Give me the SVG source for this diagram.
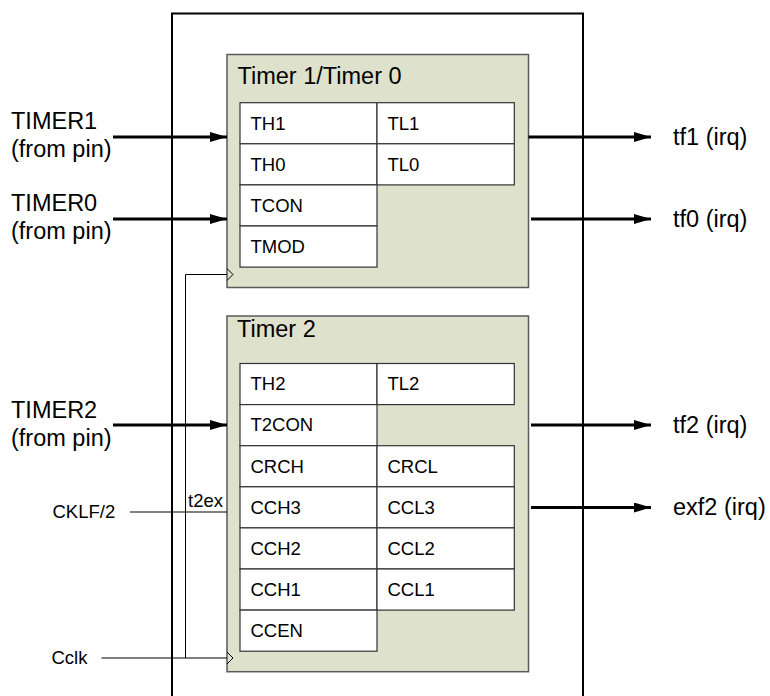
<svg xmlns="http://www.w3.org/2000/svg" width="770" height="696" viewBox="0 0 770 696">
<style>
text{font-family:"Liberation Sans",Arial,sans-serif;fill:#000}
.big{font-size:23.5px}
.sm{font-size:18.5px}
.blk{fill:#dee1cc;stroke:#5a5a5a;stroke-width:1.5}
.cell{fill:#fff;stroke:#333;stroke-width:1.2}
.thick{stroke:#000;stroke-width:3;fill:none}
.thin{stroke:#000;stroke-width:1;fill:none}
.chev{stroke:#000;stroke-width:1;fill:none}
</style>
<defs>
<marker id="ah" viewBox="0 0 17 10" refX="17" refY="5" markerWidth="17" markerHeight="10" markerUnits="userSpaceOnUse" orient="auto">
<path d="M0,0 L17,5 L0,10 Z" fill="#000"/>
</marker>
</defs>
<rect width="770" height="696" fill="#fff"/>
<g id="outer">
<rect x="172" y="13.5" width="411" height="700" fill="none" stroke="#000" stroke-width="2"/>
</g>
<g id="timer10">
<rect class="blk" x="227" y="54.5" width="301.5" height="233"/>
<text class="big" x="237.5" y="84">Timer 1/Timer 0</text>
<rect class="cell" x="240" y="102.7" width="137" height="41.1"/>
<rect class="cell" x="377" y="102.7" width="137.3" height="41.1"/>
<rect class="cell" x="240" y="143.8" width="137" height="41.1"/>
<rect class="cell" x="377" y="143.8" width="137.3" height="41.1"/>
<rect class="cell" x="240" y="184.9" width="137" height="41.1"/>
<rect class="cell" x="240" y="226" width="137" height="41.1"/>
<text class="sm" x="250.5" y="129.5">TH1</text>
<text class="sm" x="387.5" y="129.5">TL1</text>
<text class="sm" x="250.5" y="170.6">TH0</text>
<text class="sm" x="387.5" y="170.6">TL0</text>
<text class="sm" x="250.5" y="211.7">TCON</text>
<text class="sm" x="250.5" y="252.8">TMOD</text>
</g>
<g id="timer2">
<rect class="blk" x="227" y="316" width="301.5" height="355.7"/>
<text class="big" x="237" y="337">Timer 2</text>
<rect class="cell" x="240" y="363.5" width="137" height="41.1"/>
<rect class="cell" x="377" y="363.5" width="137.3" height="41.1"/>
<rect class="cell" x="240" y="404.6" width="137" height="41.1"/>
<rect class="cell" x="240" y="445.7" width="137" height="41.1"/>
<rect class="cell" x="377" y="445.7" width="137.3" height="41.1"/>
<rect class="cell" x="240" y="486.8" width="137" height="41.1"/>
<rect class="cell" x="377" y="486.8" width="137.3" height="41.1"/>
<rect class="cell" x="240" y="527.9" width="137" height="41.1"/>
<rect class="cell" x="377" y="527.9" width="137.3" height="41.1"/>
<rect class="cell" x="240" y="569" width="137" height="41.1"/>
<rect class="cell" x="377" y="569" width="137.3" height="41.1"/>
<rect class="cell" x="240" y="610.1" width="137" height="41.1"/>
<text class="sm" x="250.5" y="390.3">TH2</text>
<text class="sm" x="387.5" y="390.3">TL2</text>
<text class="sm" x="250.5" y="431.4">T2CON</text>
<text class="sm" x="250.5" y="472.5">CRCH</text>
<text class="sm" x="387.5" y="472.5">CRCL</text>
<text class="sm" x="250.5" y="513.6">CCH3</text>
<text class="sm" x="387.5" y="513.6">CCL3</text>
<text class="sm" x="250.5" y="554.7">CCH2</text>
<text class="sm" x="387.5" y="554.7">CCL2</text>
<text class="sm" x="250.5" y="595.8">CCH1</text>
<text class="sm" x="387.5" y="595.8">CCL1</text>
<text class="sm" x="250.5" y="636.9">CCEN</text>
</g>
<g id="labels">
<text class="big" x="11" y="129">TIMER1</text>
<text class="big" x="11" y="157">(from pin)</text>
<text class="big" x="11" y="211">TIMER0</text>
<text class="big" x="11" y="239">(from pin)</text>
<text class="big" x="11" y="418">TIMER2</text>
<text class="big" x="11" y="446">(from pin)</text>
<text class="sm" x="52.5" y="518">CKLF/2</text>
<text class="sm" x="51.5" y="663.5">Cclk</text>
<text class="sm" x="188" y="506.5">t2ex</text>
<text class="big" x="673" y="145">tf1 (irq)</text>
<text class="big" x="673" y="227">tf0 (irq)</text>
<text class="big" x="673" y="433">tf2 (irq)</text>
<text class="big" x="673" y="515">exf2 (irq)</text>
</g>
<g id="connectors">
<line class="thick" x1="113" y1="137" x2="227" y2="137" marker-end="url(#ah)"/>
<line class="thick" x1="113" y1="219" x2="227" y2="219" marker-end="url(#ah)"/>
<line class="thick" x1="113" y1="425" x2="227" y2="425" marker-end="url(#ah)"/>
<line class="thick" x1="528.5" y1="137" x2="651" y2="137" marker-end="url(#ah)"/>
<line class="thick" x1="531" y1="219" x2="651" y2="219" marker-end="url(#ah)"/>
<line class="thick" x1="531" y1="425" x2="651" y2="425" marker-end="url(#ah)"/>
<line class="thick" x1="531" y1="507.5" x2="651" y2="507.5" marker-end="url(#ah)"/>
<line class="thin" x1="130" y1="512" x2="227" y2="512"/>
<polyline class="thin" points="101.5,658 185.5,658 185.5,274.5 227,274.5"/>
<line class="thin" x1="185.5" y1="658" x2="227" y2="658"/>
<polyline class="chev" points="227,268.5 233,274.5 227,280.5"/>
<polyline class="chev" points="227,652 233,658 227,664"/>
</g>
</svg>
